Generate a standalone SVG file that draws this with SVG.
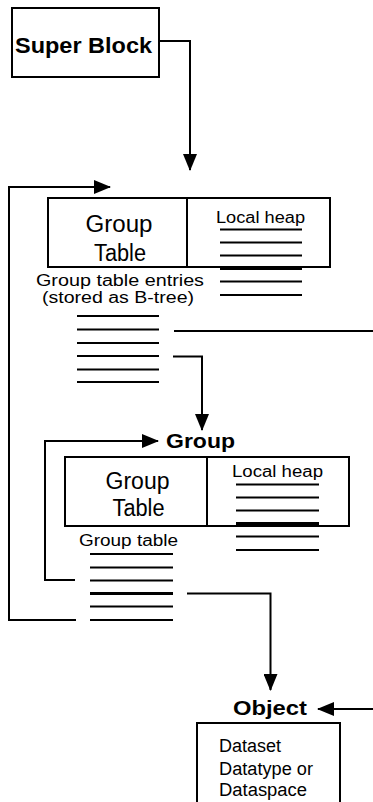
<svg xmlns="http://www.w3.org/2000/svg" width="373" height="802" viewBox="0 0 373 802">
<style>
.box{fill:#fff;stroke:#000;stroke-width:2}
.ln{stroke:#000;stroke-width:2;fill:none}
.t{font-family:"Liberation Sans",Arial,sans-serif;fill:#000}
.b{font-weight:bold}
</style>
<defs>
<marker id="ahb" markerWidth="17" markerHeight="14" refX="16" refY="7" orient="auto" markerUnits="userSpaceOnUse" viewBox="0 0 17 14">
<path d="M0,0 L17,7 L0,14 z" fill="#000"/>
</marker>
</defs>

<g id="superblock">
<rect class="box" x="12" y="8" width="147" height="69"/>
<text class="t b" x="15" y="53" font-size="22" textLength="137" lengthAdjust="spacingAndGlyphs">Super Block</text>
</g>

<g id="grouptable1">
<rect class="box" x="48" y="198" width="282" height="69"/>
<line class="ln" x1="187" y1="198" x2="187" y2="267"/>
<text class="t" x="119" y="231.5" font-size="23" text-anchor="middle" textLength="67" lengthAdjust="spacingAndGlyphs">Group</text>
<text class="t" x="120" y="261" font-size="23" text-anchor="middle" textLength="52" lengthAdjust="spacingAndGlyphs">Table</text>
<text class="t" x="216" y="222.5" font-size="16" textLength="89" lengthAdjust="spacingAndGlyphs">Local heap</text>
<g class="ln">
<line x1="220" y1="229.5" x2="302" y2="229.5"/>
<line x1="220" y1="242.5" x2="302" y2="242.5"/>
<line x1="220" y1="255.5" x2="302" y2="255.5"/>
<line x1="220" y1="268.5" x2="302" y2="268.5" stroke-width="3"/>
<line x1="220" y1="281.5" x2="302" y2="281.5"/>
<line x1="220" y1="295" x2="302" y2="295"/>
</g>
<text class="t" x="120" y="285.5" font-size="16" text-anchor="middle" textLength="168" lengthAdjust="spacingAndGlyphs">Group table entries</text>
<text class="t" x="118" y="303" font-size="16" text-anchor="middle" textLength="152" lengthAdjust="spacingAndGlyphs">(stored as B-tree)</text>
<g class="ln">
<line x1="77" y1="316" x2="159" y2="316"/>
<line x1="77" y1="329.5" x2="159" y2="329.5"/>
<line x1="77" y1="343" x2="159" y2="343"/>
<line x1="77" y1="356" x2="159" y2="356"/>
<line x1="77" y1="369.5" x2="159" y2="369.5"/>
<line x1="77" y1="382" x2="159" y2="382"/>
</g>
</g>

<g id="group">
<text class="t b" x="166" y="448" font-size="21" textLength="69" lengthAdjust="spacingAndGlyphs">Group</text>
<rect class="box" x="65" y="457" width="284" height="69"/>
<line class="ln" x1="207" y1="457" x2="207" y2="526"/>
<text class="t" x="137.5" y="488.5" font-size="23" text-anchor="middle" textLength="64" lengthAdjust="spacingAndGlyphs">Group</text>
<text class="t" x="138.5" y="516" font-size="23" text-anchor="middle" textLength="52" lengthAdjust="spacingAndGlyphs">Table</text>
<text class="t" x="232" y="477" font-size="16" textLength="91" lengthAdjust="spacingAndGlyphs">Local heap</text>
<g class="ln">
<line x1="236" y1="484.5" x2="319" y2="484.5"/>
<line x1="236" y1="497.5" x2="319" y2="497.5"/>
<line x1="236" y1="510.5" x2="319" y2="510.5"/>
<line x1="236" y1="523.5" x2="319" y2="523.5" stroke-width="3"/>
<line x1="236" y1="536.5" x2="319" y2="536.5"/>
<line x1="236" y1="550" x2="319" y2="550"/>
</g>
<text class="t" x="128.5" y="545.5" font-size="16" text-anchor="middle" textLength="99" lengthAdjust="spacingAndGlyphs">Group table</text>
<g class="ln">
<line x1="90" y1="554" x2="173" y2="554"/>
<line x1="90" y1="567.5" x2="173" y2="567.5"/>
<line x1="90" y1="580.5" x2="173" y2="580.5"/>
<line x1="90" y1="593.5" x2="173" y2="593.5" stroke-width="3"/>
<line x1="90" y1="606.5" x2="173" y2="606.5"/>
<line x1="90" y1="620" x2="173" y2="620"/>
</g>
</g>

<g id="object">
<text class="t b" x="233" y="715" font-size="21" textLength="74" lengthAdjust="spacingAndGlyphs">Object</text>
<rect class="box" x="197" y="723" width="143" height="90"/>
<text class="t" x="219" y="752" font-size="18" textLength="62" lengthAdjust="spacingAndGlyphs">Dataset</text>
<text class="t" x="219" y="775" font-size="18" textLength="94" lengthAdjust="spacingAndGlyphs">Datatype or</text>
<text class="t" x="219" y="796" font-size="18" textLength="88" lengthAdjust="spacingAndGlyphs">Dataspace</text>
</g>

<g id="connectors" class="ln">
<path d="M159,41 H190 V170" marker-end="url(#ahb)"/>
<path d="M76,620 H9 V187 H110" marker-end="url(#ahb)"/>
<path d="M174,331 H373"/>
<path d="M173,356.5 H202 V430" marker-end="url(#ahb)"/>
<path d="M75,580 H45 V441 H158" marker-end="url(#ahb)"/>
<path d="M187,593.5 H270.5 V690" marker-end="url(#ahb)"/>
<path d="M373,709 H318" marker-end="url(#ahb)"/>
</g>
</svg>
